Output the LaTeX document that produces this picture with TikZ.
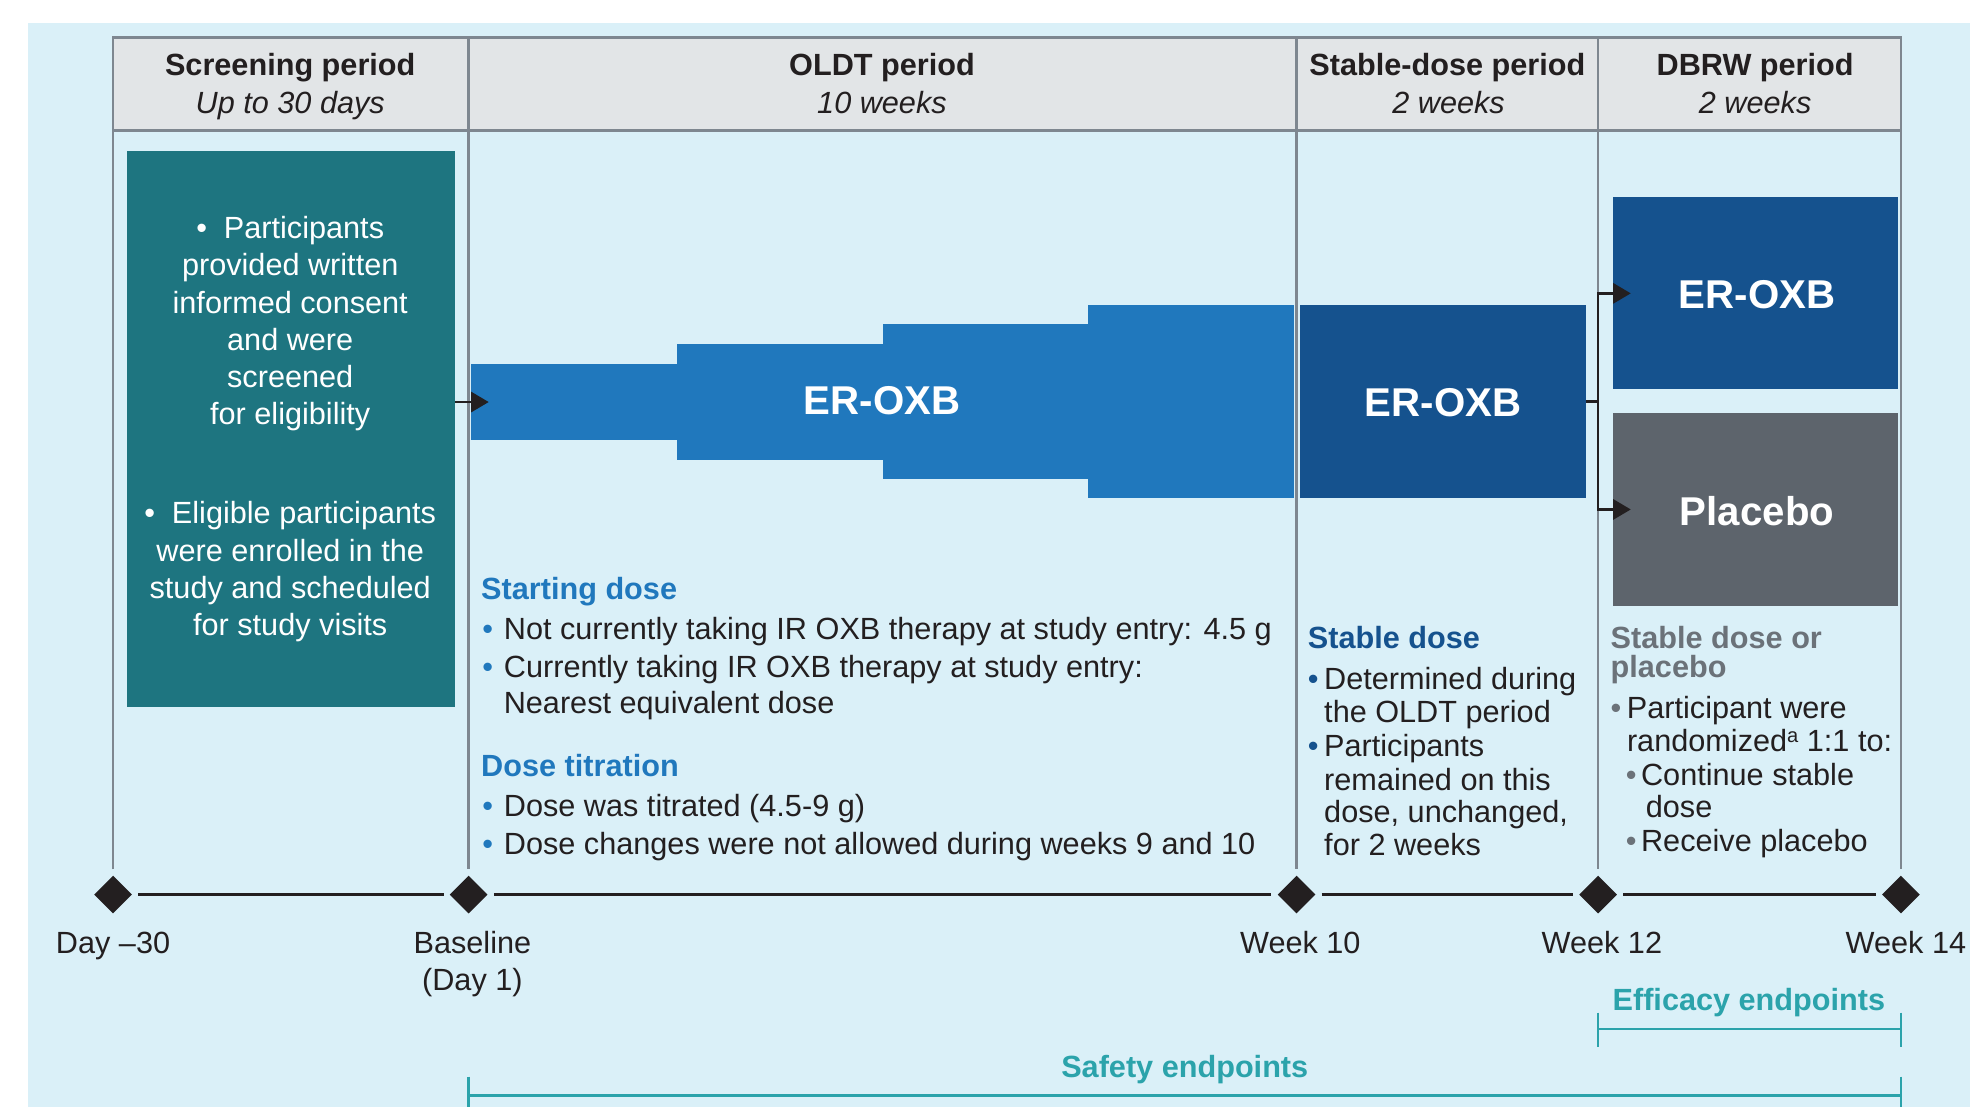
\documentclass[tikz,border=0pt]{standalone}
\usepackage{fontspec}
\setmainfont{Liberation Sans}
\usetikzlibrary{arrows.meta,fit,shapes.geometric}

\definecolor{bgblue}{HTML}{DAF0F8}
\definecolor{hdrgray}{HTML}{E2E5E7}
\definecolor{gridgray}{HTML}{7E8790}
\definecolor{inkdark}{HTML}{231F20}
\definecolor{tealbox}{HTML}{1E7580}
\definecolor{oxbblue}{HTML}{2078BD}
\definecolor{oxbdark}{HTML}{15528E}
\definecolor{placgray}{HTML}{5D646C}
\definecolor{headgray}{HTML}{6B7279}
\definecolor{endteal}{HTML}{2BA3AB}

\tikzset{
  body/.style={font=\fontsize{12.2}{14.6}\selectfont, text=inkdark},
  bodyb/.style={font=\fontsize{12.2}{14.6}\selectfont\bfseries},
  bodyi/.style={font=\fontsize{12.2}{14.6}\selectfont\itshape, text=inkdark},
  boxlabel/.style={font=\fontsize{16}{19}\selectfont\bfseries, text=white},
  gridline/.style={draw=gridgray, line width=1pt},
  conn/.style={draw=inkdark, line width=1pt},
  arrowhd/.style={-{Triangle[length=7pt,width=8pt]}},
  mile/.style={diamond, fill=inkdark, minimum width=15pt, minimum height=15pt},
  tl/.style={draw=inkdark, line width=1.25pt, shorten <=2.5pt, shorten >=2.5pt},
  brk/.style={draw=endteal, line width=1pt},
}

\begin{document}
\begin{tikzpicture}[x=0.5pt, y=-0.5pt, every node/.style={inner sep=0pt, outer sep=0pt}]
\useasboundingbox (0,0) rectangle (1568,881);
\fill[white] (0,0) rectangle (1568,881);
\fill[bgblue] (22,18) rectangle (1568,881);

% period table: header band and column rules
\fill[hdrgray] (90,30) rectangle (1513,104);
\draw[gridline] (90,692) -- (90,30) -- (1513,30) -- (1513,692);
\draw[gridline] (90,104) -- (1513,104);
\foreach \x in {373,1032,1272} \draw[gridline] (\x,30) -- (\x,692);

% header titles
\node[bodyb, text=inkdark, anchor=base] (h1t) at (231,60) {Screening period};
\node[bodyi, anchor=base] (h1s) at (231,90) {Up to 30 days};
\node[bodyb, text=inkdark, anchor=base] (h2t) at (702,60) {OLDT period};
\node[bodyi, anchor=base] (h2s) at (702,90) {10 weeks};
\node[bodyb, text=inkdark, anchor=base] (h3t) at (1152,60) {Stable-dose period};
\node[bodyi, anchor=base] (h3s) at (1153,90) {2 weeks};
\node[bodyb, text=inkdark, anchor=base] (h4t) at (1397,60) {DBRW period};
\node[bodyi, anchor=base] (h4s) at (1397,90) {2 weeks};

% screening box
\node[fit={(101,120) (362,563)}, fill=tealbox] (screen) {};
\foreach \t [count=\i] in {{\textbullet\hspace{0.55em}Participants}, {provided written}, {informed consent}, {and were}, {screened}, {for eligibility}}
  \node[body, text=white, anchor=base] (scrA\i) at (231,{190+29.6*(\i-1)}) {\t};
\foreach \t [count=\i] in {{\textbullet\hspace{0.55em}Eligible participants}, {were enrolled in the}, {study and scheduled}, {for study visits}}
  \node[body, text=white, anchor=base] (scrB\i) at (231,{417+29.6*(\i-1)}) {\t};

% OLDT titration staircase
\node[fit={(375,290) (540,350)}, fill=oxbblue] (st1) {};
\node[fit={(539,274) (704,366)}, fill=oxbblue] (st2) {};
\node[fit={(703,258) (867,381)}, fill=oxbblue] (st3) {};
\node[fit={(866,243) (1030,396)}, fill=oxbblue] (st4) {};
\node[boxlabel] (oldtlab) at (702,319) {ER-OXB};

% stable-dose and DBRW boxes
\node[fit={(1035,243) (1262,396)}, fill=oxbdark] (stab) {};
\node[fit={(1284,157) (1511,310)}, fill=oxbdark] (dbox) {};
\node[fit={(1284,329) (1511,482)}, fill=placgray] (pbox) {};
\node[boxlabel] (stablab) at ([yshift=-0.5pt]stab.center) {ER-OXB};
\node[boxlabel] (dboxlab) at ([xshift=0.5pt,yshift=-0.5pt]dbox.center) {ER-OXB};
\node[boxlabel] (pboxlab) at ([xshift=0.5pt,yshift=-0.5pt]pbox.center) {Placebo};

% connectors
\draw[conn, arrowhd] (screen.east |- st1.west) -- ([xshift=7pt]st1.west);
\draw[conn] (stab.east) -- ++(10,0) coordinate (fork);
\draw[conn, arrowhd] (fork) |- ([xshift=7pt]dbox.west);
\draw[conn, arrowhd] (fork) |- ([xshift=7pt]pbox.west);

% OLDT notes
\node[bodyb, text=oxbblue, anchor=base west] (sdh) at (383,477) {Starting dose};
\node[body, anchor=base west] (sd1) at (384,509) {\textcolor{oxbblue}{\textbullet}\hspace{0.35em}Not currently taking IR OXB therapy at study entry: 4.5 g};
\node[body, anchor=base west] (sd2) at (384,539) {\textcolor{oxbblue}{\textbullet}\hspace{0.35em}Currently taking IR OXB therapy at study entry:};
\node[body, anchor=base west] (sd3) at (401,568) {Nearest equivalent dose};
\node[bodyb, text=oxbblue, anchor=base west] (dth) at (383,618) {Dose titration};
\node[body, anchor=base west] (dt1) at (384,650) {\textcolor{oxbblue}{\textbullet}\hspace{0.35em}Dose was titrated (4.5-9 g)};
\node[body, anchor=base west] (dt2) at (384,680) {\textcolor{oxbblue}{\textbullet}\hspace{0.35em}Dose changes were not allowed during weeks 9 and 10};

% stable-dose notes
\node[bodyb, text=oxbdark, anchor=base west] (sbh) at (1041,516) {Stable dose};
\node[body, anchor=base west] (sb1) at (1041,549) {\textcolor{oxbdark}{\textbullet}\hspace{0.18em}Determined during};
\node[body, anchor=base west] (sb2) at (1054,575) {the OLDT period};
\node[body, anchor=base west] (sb3) at (1041,602) {\textcolor{oxbdark}{\textbullet}\hspace{0.18em}Participants};
\node[body, anchor=base west] (sb4) at (1054,629) {remained on this};
\node[body, anchor=base west] (sb5) at (1054,655) {dose, unchanged,};
\node[body, anchor=base west] (sb6) at (1054,681) {for 2 weeks};

% DBRW notes
\node[bodyb, text=headgray, anchor=base west] (rwh1) at (1282,516) {Stable dose or};
\node[bodyb, text=headgray, anchor=base west] (rwh2) at (1282,539) {placebo};
\node[body, anchor=base west] (rw1) at (1282,572) {\textcolor{headgray}{\textbullet}\hspace{0.18em}Participant were};
\node[body, anchor=base west] (rw2) at (1295,598) {randomized{\fontsize{8}{9}\selectfont\raisebox{0.45em}{a}} 1:1 to:};
\node[body, anchor=base west] (rw3) at (1294,625) {\textcolor{headgray}{\textbullet}\hspace{0.15em}Continue stable};
\node[body, anchor=base west] (rw4) at (1310,651) {dose};
\node[body, anchor=base west] (rw5) at (1294,678) {\textcolor{headgray}{\textbullet}\hspace{0.15em}Receive placebo};

% timeline
\node[mile] (m0) at (90,712) {};
\node[mile] (m1) at (373,712) {};
\node[mile] (m2) at (1032,712) {};
\node[mile] (m3) at (1272,712) {};
\node[mile] (m4) at (1513,712) {};
\draw[tl] (m0) -- (m1);
\draw[tl] (m1) -- (m2);
\draw[tl] (m2) -- (m3);
\draw[tl] (m3) -- (m4);

\node[body, anchor=base] (l0) at (90,759) {Day \textendash30};
\node[body, anchor=base] (l1) at (376,759) {Baseline};
\node[body, anchor=base] (l1b) at (376,788) {(Day 1)};
\node[body, anchor=base] (l2) at (1035,759) {Week 10};
\node[body, anchor=base] (l3) at (1275,759) {Week 12};
\node[body, anchor=base] (l4) at (1517,759) {Week 14};

% endpoint brackets
\node[bodyb, text=endteal, anchor=base] (eft) at (1392,804) {Efficacy endpoints};
\coordinate (efL) at (1272,819);
\coordinate (efR) at (1513,819);
\draw[brk] (efL) -- (efR);
\draw[brk] (efL) ++(0,-13) -- ++(0,27);
\draw[brk] (efR) ++(0,-13) -- ++(0,27);

\node[bodyb, text=endteal, anchor=base] (sft) at (943,858) {Safety endpoints};
\coordinate (sfL) at (373,872);
\coordinate (sfR) at (1513,872);
\draw[brk] (sfL) -- (sfR);
\draw[brk] (sfL) ++(0,-15) -- ++(0,30);
\draw[brk] (sfR) ++(0,-15) -- ++(0,30);
\end{tikzpicture}
\end{document}
